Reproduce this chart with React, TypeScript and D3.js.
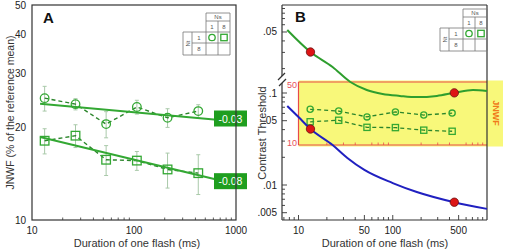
import { curveMonotoneX, line, scaleLog } from "d3";

// flash durations shared by both panels (ms)
const flashMs = [13.3, 26.7, 53.3, 106.7, 213.3, 426.7];

// JNWF, % of reference mean, with error bars
const jnwfNs1 = [24.9, 23.8, 20.5, 23.3, 21.5, 22.6];
const jnwfNs1Err = [2.3, 1.0, 2.0, 1.2, 1.5, 1.1];
const jnwfNs8 = [18.1, 18.8, 15.7, 15.6, 14.6, 14.2];
const jnwfNs8Err = [1.7, 1.6, 1.75, 1.1, 1.9, 2.1];

// power-law fits: slope and value at 10 ms
const fitSlope = [-0.03, -0.08];
const fitAt10 = [24, 18.9];
const fitLabels = ["-0.03", "-0.08"];

const jnwfTicks = [10, 20, 30, 40, 50];
const durationTicksA = [10, 100, 1000];
const durationMinorA = [20, 30, 40, 50, 60, 70, 80, 90, 200, 300, 400, 500, 600, 700, 800, 900];

// contrast threshold curves (panel B)
const greenMs = [7.6, 13.4, 23, 35.5, 53, 78, 119, 180, 294, 450, 710, 1000];
const greenThreshold = [0.0526, 0.0303, 0.0208, 0.0143, 0.0117, 0.0106, 0.0101, 0.0098, 0.0101, 0.0109, 0.0117, 0.0114];
const blueMs = [7.6, 10, 13.4, 23, 33, 50, 100, 180, 450, 1000];
const blueThreshold = [0.0722, 0.0548, 0.0406, 0.0272, 0.0197, 0.0146, 0.0105, 0.0084, 0.0065, 0.0055];
const markedMs = [13.4, 450];
const greenMarked = [0.0303, 0.0109];
const blueMarked = [0.0406, 0.0065];

const durationTicksB = [10, 50, 100, 500];
const durationMinorB = [7, 8, 9, 20, 30, 40, 60, 70, 80, 90, 200, 300, 400, 600, 700, 800, 900];
const upperTicks = [0.05];
const lowerTicks = [0.1, 0.05, 0.01, 0.005];
const thresholdMinor = [0.006, 0.007, 0.008, 0.009, 0.02, 0.03, 0.04, 0.06, 0.07, 0.08, 0.09];
const insetTicks = [50, 10];

const FONT = "'Liberation Sans', Arial, sans-serif";
const AXIS = "#333";
const GREEN = "#33a833";
const DASH_GREEN = "#2b852b";
const BAR = "#a9c9a9";

const fmtThreshold = (d: number) => String(d).replace(/^0/, "");

function Marker({ shape, cx, cy, r }: { shape: string; cx: number; cy: number; r: number }) {
  return shape === "circle" ? (
    <circle cx={cx} cy={cy} r={r} fill="none" stroke={GREEN} strokeWidth={1.3} />
  ) : (
    <rect x={cx - r} y={cy - r} width={r * 2} height={r * 2} fill="none" stroke={GREEN} strokeWidth={1.3} />
  );
}

// small Nt x Ns key table
function KeyTable({ x, y }: { x: number; y: number }) {
  const cols = [x, x + 9, x + 23, x + 35, x + 47];
  const rows = [y, y + 8, y + 19, y + 30, y + 42];
  const s = { stroke: "#777", strokeWidth: 0.8 };
  const txt = { fontSize: 6, fill: "#555", textAnchor: "middle" as const, dominantBaseline: "central" as const };
  return (
    <g fontFamily={FONT}>
      <line x1={cols[2]} x2={cols[4]} y1={rows[0]} y2={rows[0]} {...s} />
      <line x1={cols[2]} x2={cols[4]} y1={rows[1]} y2={rows[1]} {...s} />
      <line x1={cols[0]} x2={cols[4]} y1={rows[2]} y2={rows[2]} {...s} />
      <line x1={cols[1]} x2={cols[4]} y1={rows[3]} y2={rows[3]} {...s} />
      <line x1={cols[0]} x2={cols[4]} y1={rows[4]} y2={rows[4]} {...s} />
      <line x1={cols[0]} x2={cols[0]} y1={rows[2]} y2={rows[4]} {...s} />
      <line x1={cols[1]} x2={cols[1]} y1={rows[2]} y2={rows[4]} {...s} />
      <line x1={cols[2]} x2={cols[2]} y1={rows[0]} y2={rows[4]} {...s} />
      <line x1={cols[3]} x2={cols[3]} y1={rows[1]} y2={rows[4]} {...s} />
      <line x1={cols[4]} x2={cols[4]} y1={rows[0]} y2={rows[4]} {...s} />
      <text x={(cols[2] + cols[4]) / 2} y={(rows[0] + rows[1]) / 2} {...txt}>Ns</text>
      <text x={(cols[2] + cols[3]) / 2} y={(rows[1] + rows[2]) / 2} {...txt}>1</text>
      <text x={(cols[3] + cols[4]) / 2} y={(rows[1] + rows[2]) / 2} {...txt}>8</text>
      <text x={(cols[1] + cols[2]) / 2} y={(rows[2] + rows[3]) / 2} {...txt}>1</text>
      <text x={(cols[1] + cols[2]) / 2} y={(rows[3] + rows[4]) / 2} {...txt}>8</text>
      <text
        transform={`translate(${(cols[0] + cols[1]) / 2},${(rows[2] + rows[4]) / 2}) rotate(-90)`}
        {...txt}
      >
        Nt
      </text>
      <Marker shape="circle" cx={(cols[2] + cols[3]) / 2} cy={(rows[2] + rows[3]) / 2} r={3.2} />
      <Marker shape="square" cx={(cols[3] + cols[4]) / 2} cy={(rows[2] + rows[3]) / 2} r={3.2} />
    </g>
  );
}

export default function App() {
  const xA = scaleLog().domain([10, 1000]).range([32, 236]);
  const yA = scaleLog().domain([10, 50]).range([220, 5]);
  const xB = scaleLog().domain([10, 1000]).range([298.5, 487]);
  const yUpper = scaleLog().domain([0.01, 0.1]).range([96.3, 4.3]);
  const yLower = scaleLog().domain([0.01, 0.1]).range([185, 93]);
  const yInset = scaleLog().domain([10, 50]).range([145, 82]);

  const aTop = 5, aBottom = 220, aLeft = 32, aRight = 236;
  const bLeft = 282, bRight = 487, bTop = 5, bBottom = 220;
  const breakTop = 76, breakBottom = 83;

  const seriesA = [
    { shape: "circle", values: jnwfNs1, err: jnwfNs1Err },
    { shape: "square", values: jnwfNs8, err: jnwfNs8Err },
  ];

  const pathA = (vals: number[]) =>
    line<number>().x((_, i) => xA(flashMs[i])).y((v) => yA(v))(vals) ?? "";
  const pathInset = (vals: number[]) =>
    line<number>().x((_, i) => xB(flashMs[i])).y((v) => yInset(v))(vals) ?? "";
  const fitPath = (k: number) =>
    line<number>().x((ms) => xA(ms)).y((ms) => yA(fitAt10[k] * Math.pow(ms / 10, fitSlope[k])))([12, 1000]) ?? "";

  const greenPath =
    line<number>().x((_, i) => xB(greenMs[i])).y((v) => yUpper(v)).curve(curveMonotoneX)(greenThreshold) ?? "";
  const bluePath =
    line<number>().x((_, i) => xB(blueMs[i])).y((v) => yLower(v)).curve(curveMonotoneX)(blueThreshold) ?? "";

  const insetTop = yInset(50);
  const insetBottom = yInset(10);
  const insetLeft = xB(10);

  return (
    <div style={{ position: "fixed", left: 0, top: 0 }}>
      <svg width={506} height={250} viewBox="0 0 506 250" fontFamily={FONT} style={{ display: "block", background: "#fff" }}>
        {/* ---------- panel A ---------- */}
        {durationMinorA.map((t) => (
          <line key={t} x1={xA(t)} x2={xA(t)} y1={aBottom} y2={aBottom - (t === 100 ? 4 : 2.5)} stroke={AXIS} strokeWidth={0.8} />
        ))}
        {jnwfTicks.map((t) => (
          <text key={t} x={26} y={yA(t)} fontSize={10} fill="#222" textAnchor="end" dominantBaseline="central">
            {t}
          </text>
        ))}
        {durationTicksA.map((t) => (
          <text key={t} x={xA(t)} y={234} fontSize={10} fill="#222" textAnchor="middle">
            {t}
          </text>
        ))}

        {seriesA.map((s) => (
          <g key={s.shape}>
            {s.values.map((v, i) => (
              <g key={i} stroke={BAR} strokeWidth={1}>
                <line x1={xA(flashMs[i])} x2={xA(flashMs[i])} y1={yA(v + s.err[i])} y2={yA(v - s.err[i])} />
                <line x1={xA(flashMs[i]) - 2} x2={xA(flashMs[i]) + 2} y1={yA(v + s.err[i])} y2={yA(v + s.err[i])} />
                <line x1={xA(flashMs[i]) - 2} x2={xA(flashMs[i]) + 2} y1={yA(v - s.err[i])} y2={yA(v - s.err[i])} />
              </g>
            ))}
            <path d={pathA(s.values)} fill="none" stroke={DASH_GREEN} strokeWidth={1.4} strokeDasharray="4 3" />
          </g>
        ))}
        {fitSlope.map((_, k) => (
          <path key={k} d={fitPath(k)} fill="none" stroke={GREEN} strokeWidth={2} />
        ))}
        {seriesA.map((s) =>
          s.values.map((v, i) => (
            <g key={`${s.shape}${i}`}>
              <Marker shape={s.shape} cx={xA(flashMs[i])} cy={yA(v)} r={4.3} />
            </g>
          ))
        )}
        {fitLabels.map((label, k) => {
          const cy = yA(fitAt10[k] * Math.pow(100, fitSlope[k])) - 3;
          return (
            <g key={label}>
              <rect x={214} y={cy - 8} width={33} height={16} fill="#1f9e1f" />
              <text x={230.5} y={cy} fontSize={10.5} fill="#fff" textAnchor="middle" dominantBaseline="central">
                {label}
              </text>
            </g>
          );
        })}
        <rect x={aLeft} y={aTop} width={aRight - aLeft} height={aBottom - aTop} fill="none" stroke={AXIS} strokeWidth={1.2} />
        <KeyTable x={183} y={13} />
        <text x={43} y={23} fontSize={15} fontWeight="bold" fill="#111">A</text>
        <text transform={`translate(10,${(aTop + aBottom) / 2}) rotate(-90)`} fontSize={10.5} fill="#333" textAnchor="middle" dominantBaseline="central">
          JNWF (% of the reference mean)
        </text>
        <text x={(aLeft + aRight) / 2 + 3} y={247} fontSize={11} fill="#333" textAnchor="middle">
          Duration of one flash (ms)
        </text>

        {/* ---------- panel B ---------- */}
        <rect x={insetLeft} y={insetTop - 1.5} width={503 - insetLeft} height={insetBottom - insetTop + 3} fill="#f8f87a" />
        <g stroke="#e84a4a" strokeWidth={1.2}>
          <line x1={insetLeft} x2={insetLeft} y1={insetTop} y2={insetBottom} />
          <line x1={insetLeft} x2={bRight} y1={insetTop} y2={insetTop} />
          <line x1={insetLeft} x2={bRight} y1={insetBottom} y2={insetBottom} />
        </g>
        {durationMinorB.filter((t) => t > 10).map((t) => (
          <line key={t} x1={xB(t)} x2={xB(t)} y1={insetBottom} y2={insetBottom - 2.5} stroke="#e84a4a" strokeWidth={0.8} />
        ))}
        {insetTicks.map((t) => (
          <text key={t} x={297} y={yInset(t) + (t === 50 ? 3 : -2)} fontSize={9} fill="#e8505a" textAnchor="end" dominantBaseline="central">
            {t}
          </text>
        ))}
        <text transform="translate(496,113) rotate(90)" fontSize={9} fontWeight="bold" fill="#f07a1a" textAnchor="middle" dominantBaseline="central">
          JNWF
        </text>
        {seriesA.map((s) => (
          <g key={s.shape}>
            <path d={pathInset(s.values)} fill="none" stroke={DASH_GREEN} strokeWidth={1.3} strokeDasharray="4 3" />
            {s.values.map((v, i) => (
              <Marker key={i} shape={s.shape} cx={xB(flashMs[i])} cy={yInset(v)} r={3.1} />
            ))}
          </g>
        ))}

        {/* frame with broken left axis */}
        <g stroke={AXIS} strokeWidth={1.2} fill="none">
          <line x1={bLeft} x2={bRight} y1={bTop} y2={bTop} />
          <line x1={bRight} x2={bRight} y1={bTop} y2={bBottom} />
          <line x1={bLeft} x2={bRight} y1={bBottom} y2={bBottom} />
          <line x1={bLeft} x2={bLeft} y1={bTop} y2={breakTop} />
          <line x1={bLeft} x2={bLeft} y1={breakBottom} y2={bBottom} />
          <line x1={bLeft - 4} x2={bLeft + 3} y1={breakTop + 4} y2={breakTop - 3} />
          <line x1={bLeft - 3} x2={bLeft + 4} y1={breakBottom + 3} y2={breakBottom - 4} />
        </g>
        {durationTicksB.concat(durationMinorB).map((t) => (
          <line key={t} x1={xB(t)} x2={xB(t)} y1={bBottom} y2={bBottom - (durationTicksB.includes(t) ? 5 : 3)} stroke={AXIS} strokeWidth={0.9} />
        ))}
        {durationTicksB.map((t) => (
          <text key={t} x={xB(t)} y={234} fontSize={10} fill="#222" textAnchor="middle">
            {t}
          </text>
        ))}
        {thresholdMinor.map((t) => yUpper(t)).filter((y) => y > bTop + 1 && y < breakTop - 1).map((y) => (
          <line key={`u${y}`} x1={bLeft} x2={bLeft + 3} y1={y} y2={y} stroke={AXIS} strokeWidth={0.9} />
        ))}
        {thresholdMinor.map((t) => yLower(t)).filter((y) => y > breakBottom + 1 && y < bBottom - 1).map((y) => (
          <line key={`l${y}`} x1={bLeft} x2={bLeft + 3} y1={y} y2={y} stroke={AXIS} strokeWidth={0.9} />
        ))}
        {upperTicks.map((t) => (
          <g key={`U${t}`}>
            <line x1={bLeft} x2={bLeft + 5} y1={yUpper(t)} y2={yUpper(t)} stroke={AXIS} strokeWidth={0.9} />
            <text x={277} y={yUpper(t)} fontSize={10} fill="#222" textAnchor="end" dominantBaseline="central">
              {fmtThreshold(t)}
            </text>
          </g>
        ))}
        {lowerTicks.map((t) => (
          <g key={`L${t}`}>
            <line x1={bLeft} x2={bLeft + 5} y1={yLower(t)} y2={yLower(t)} stroke={AXIS} strokeWidth={0.9} />
            <text x={277} y={yLower(t)} fontSize={10} fill="#222" textAnchor="end" dominantBaseline="central">
              {fmtThreshold(t)}
            </text>
          </g>
        ))}

        <path d={greenPath} fill="none" stroke="#2e9e2e" strokeWidth={2} />
        <path d={bluePath} fill="none" stroke="#2020c0" strokeWidth={2} />
        {markedMs.map((ms, i) => (
          <g key={ms} fill="#dd1515" stroke="#6a1010" strokeWidth={0.8}>
            <circle cx={xB(ms)} cy={yUpper(greenMarked[i])} r={4.2} />
            <circle cx={xB(ms)} cy={yLower(blueMarked[i])} r={4.2} />
          </g>
        ))}

        <KeyTable x={440} y={9} />
        <text x={295} y={22} fontSize={15} fontWeight="bold" fill="#111">B</text>
        <text transform="translate(262,133) rotate(-90)" fontSize={11} fill="#333" textAnchor="middle" dominantBaseline="central">
          Contrast Threshold
        </text>
        <text x={385} y={247} fontSize={11} fill="#333" textAnchor="middle">
          Duration of one flash (ms)
        </text>
      </svg>
    </div>
  );
}
